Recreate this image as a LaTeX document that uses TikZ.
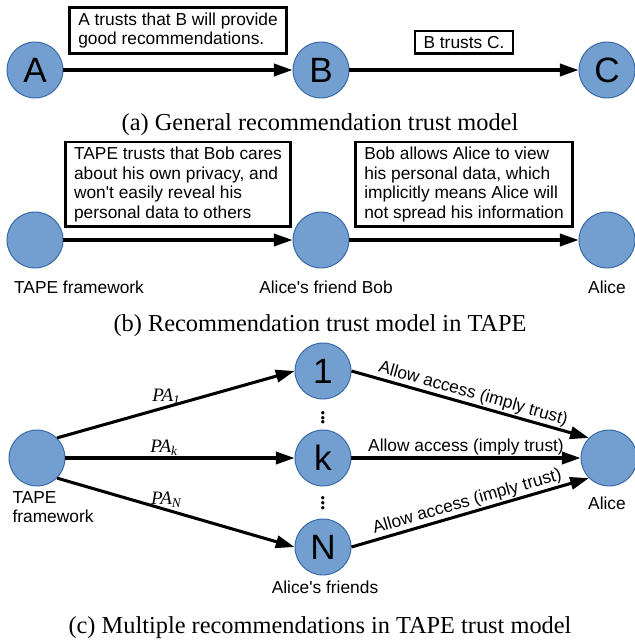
\documentclass[tikz,border=0pt]{standalone}
\usepackage{fontspec}
\setmainfont{Liberation Serif}
\newfontfamily\arial{Liberation Sans}
\usetikzlibrary{arrows.meta,positioning}
\definecolor{peerfill}{RGB}{114,159,207}
\definecolor{peerline}{RGB}{52,101,164}
\newcommand{\apos}{\textquotesingle}

\begin{document}
\begin{tikzpicture}[->, >={Triangle[length=16pt,width=10.5pt]}, line width=2.6pt,
        x=0.3mm, y=-0.3mm, node distance=8.58cm, auto,
        peer/.style={circle, fill=peerfill, draw=peerline, line width=0.8pt, minimum size=16.8mm,
                     inner sep=0pt, font=\arial\fontsize{30}{30}\selectfont},
        note/.style={draw, line width=2.3pt, align=left, inner xsep=2.6mm, inner ysep=1.5mm,
                     font=\arial\fontsize{14.8}{16.6}\selectfont},
        lbl/.style={inner sep=1pt, font=\arial\fontsize{14.8}{16.6}\selectfont},
        pa/.style={inner sep=1pt, font=\itshape\fontsize{16.2}{18}\selectfont},
        vdot/.style={inner sep=0pt, font=\fontsize{24}{24}\selectfont},
        subcap/.style={font=\fontsize{20.8}{24}\selectfont}]
        \useasboundingbox (0,0) rectangle (634,644);

        % (a)
        \node[peer] (A) at (35,70) {A};
        \node[peer] (B) [right of=A] {B};
        \node[peer] (C) [right of=B] {C};
        \path (A.east) edge node[note, above=4.6mm] {A trusts that B will provide\\good recommendations.} (B.west)
              (B.east) edge node[note, above=4.6mm] {B trusts C.} (C.west);
        \node[subcap] (capa) at (320,125) {(a) General recommendation trust model};

        % (b)
        \node[peer] (tape) at (35,240) {};
        \node[peer] (bob) [right of=tape] {};
        \node[peer] (alice) [right of=bob] {};
        \path (tape.east) edge node[note, above=3.6mm] {TAPE trusts that Bob cares\\about his own privacy, and\\won\apos t easily reveal his\\personal data to others} (bob.west)
              (bob.east) edge node[note, above=3.6mm] {Bob allows Alice to view\\his personal data, which\\implicitly means Alice will\\not spread his information} (alice.west);
        \node[lbl] (ltape) at (79,287) {TAPE framework};
        \node[lbl] (lbob) at (326,287) {Alice\apos s friend Bob};
        \node[lbl] (lalice) at (607,287) {Alice};
        \node[subcap] (capb) at (320,326) {(b) Recommendation trust model in TAPE};

        % (c)
        \node[peer] (tapec) at (37,458) {};
        \node[peer] (k) [right of=tapec] {k};
        \node[peer] (one) [above of=k, node distance=2.61cm] {1};
        \node[peer] (n) [below of=k, node distance=2.67cm] {N};
        \node[peer] (alicec) [right of=k] {};
        \node[vdot] (dotsa) [below of=one, node distance=1.3cm] {$\vdots$};
        \node[vdot] (dotsb) [below of=k, node distance=1.25cm] {$\vdots$};
        \path (tapec.45) edge node[pa, above, pos=0.46] {PA\textsubscript{1}} (one.west)
              (tapec.east) edge node[pa, above, pos=0.43] {PA\textsubscript{k}} (k.west)
              (tapec.-45) edge node[pa, above, pos=0.46] {PA\textsubscript{N}} (n.west)
              (one.east) edge node[lbl, sloped, above] {Allow access (imply trust)} (alicec.135)
              (k.east) edge node[lbl, above] {Allow access (imply trust)} (alicec.west)
              (n.east) edge node[lbl, sloped, above] {Allow access (imply trust)} (alicec.225);
        \node[lbl, align=left] (ltapec) at (53,507) {TAPE\\framework};
        \node[lbl] (lfriends) at (325,587) {Alice\apos s friends};
        \node[lbl] (lalicec) at (607,503) {Alice};
        \node[subcap] (capc) at (320,628) {(c) Multiple recommendations in TAPE trust model};
\end{tikzpicture}
\end{document}
